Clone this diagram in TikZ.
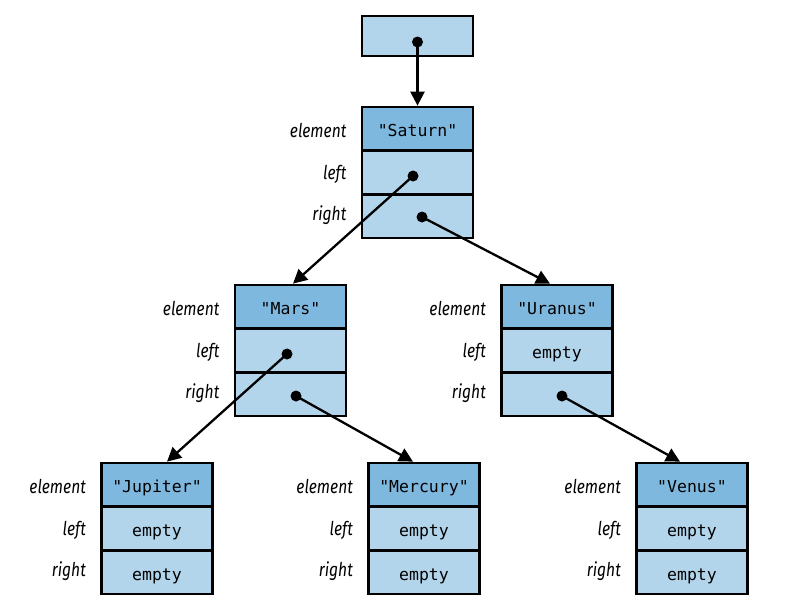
\documentclass[tikz,border=0pt]{standalone}
\usepackage{fontspec}
\usetikzlibrary{calc,shapes.multipart,arrows.meta}
\setmonofont{DejaVu Sans Mono}
\newfontfamily\lblfont{Fira Sans}[FakeStretch=0.82]
\definecolor{headblue}{HTML}{7FB8DF}
\definecolor{bodyblue}{HTML}{B3D5EB}
\newcommand{\rowstrut}{\rule[-13pt]{0pt}{41.5pt}}

\begin{document}
\begin{tikzpicture}[x=1pt,y=-1pt,
    rec/.style={rectangle split,rectangle split parts=3,draw,line width=2.3pt,
      rectangle split part fill={headblue,bodyblue,bodyblue},
      inner xsep=0pt,inner ysep=0pt,text width=111pt,align=center,
      font=\ttfamily\fontsize{16.5}{18}\selectfont},
    lbl/.style={anchor=base east,font=\lblfont\itshape\fontsize{19}{22}\selectfont},
    ptr/.style={line width=2.3pt,-{Triangle[length=14pt,width=14pt]}},
    dot/.style={circle,fill,inner sep=0pt,minimum size=11pt}]
  \useasboundingbox (0,0) rectangle (791,603);

  % root reference
  \node[draw,line width=2.3pt,fill=bodyblue,minimum width=111pt,minimum height=40pt] (root) at (417.5,36) {};
  \node[dot] (rootP) at ($(root)+(0,6)$) {};

  % tree nodes
  \node[rec] (saturn) at (417.5,172.5) {
    \rowstrut"Saturn"
    \nodepart{two}\rowstrut
    \nodepart{three}\rowstrut
  };
  \node[rec] (mars) at (290.5,350.5) {
    \rowstrut"Mars"
    \nodepart{two}\rowstrut
    \nodepart{three}\rowstrut
  };
  \node[rec] (uranus) at (557,350.5) {
    \rowstrut"Uranus"
    \nodepart{two}\rowstrut empty
    \nodepart{three}\rowstrut
  };
  \node[rec] (jupiter) at (157,528.5) {
    \rowstrut"Jupiter"
    \nodepart{two}\rowstrut empty
    \nodepart{three}\rowstrut empty
  };
  \node[rec] (mercury) at (424,528.5) {
    \rowstrut"Mercury"
    \nodepart{two}\rowstrut empty
    \nodepart{three}\rowstrut empty
  };
  \node[rec] (venus) at (692,528.5) {
    \rowstrut"Venus"
    \nodepart{two}\rowstrut empty
    \nodepart{three}\rowstrut empty
  };

  % field labels
  \foreach \n in {saturn,mars,uranus,jupiter,mercury,venus}{
    \node[lbl] (\n E) at ($(\n.west)+(-11,-35)$) {element};
    \node[lbl] (\n L) at ($(\n.west)+(-11,6.5)$) {left};
    \node[lbl] (\n R) at ($(\n.west)+(-11,48)$) {right};
  }

  % pointer dots
  \node[dot] (saturnP1) at ($(saturn)+(-4.5,3.5)$) {};
  \node[dot] (saturnP2) at ($(saturn)+(4.5,44.5)$) {};
  \node[dot] (marsP1) at ($(mars)+(-3.5,3.5)$) {};
  \node[dot] (marsP2) at ($(mars)+(5.5,45.5)$) {};
  \node[dot] (uranusP2) at ($(uranus)+(5,45.5)$) {};

  % pointers
  \draw[ptr] (rootP.center) -- (saturn.north);
  \draw[ptr] (saturnP1.center) -- ($(mars.north)+(2.5,0)$);
  \draw[ptr] (saturnP2.center) -- ($(uranus.north)+(-7,0)$);
  \draw[ptr] (marsP1.center) -- ($(jupiter.north)+(10,0)$);
  \draw[ptr] (marsP2.center) -- ($(mercury.north)+(-11,0)$);
  \draw[ptr] (uranusP2.center) -- ($(venus.north)+(-12,0)$);
\end{tikzpicture}
\end{document}
